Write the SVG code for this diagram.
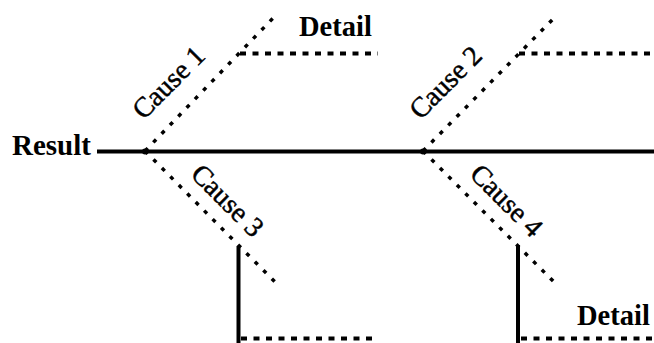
<svg xmlns="http://www.w3.org/2000/svg" width="654" height="343" viewBox="0 0 654 343">
<style>
.bg{fill:#fff}
.solid{stroke:#000;stroke-width:4;fill:none}
.dot{stroke:#000;stroke-width:3.5;stroke-dasharray:4 8;fill:none}
.dash{stroke:#000;stroke-width:4;stroke-dasharray:6 6.5;fill:none}
.bold{font-family:"Liberation Serif","Times New Roman",serif;font-weight:bold;font-size:29px;fill:#000}
.cause{font-family:"Liberation Serif","Times New Roman",serif;font-size:28px;fill:#000;stroke:#000;stroke-width:0.5;text-anchor:middle}
.joint{fill:#000}
</style>
<rect class="bg" x="0" y="0" width="654" height="343"/>
<g id="connectors">
  <line class="solid" x1="97" y1="151.5" x2="654" y2="151.5"/>
  <line class="dot" x1="145" y1="151" x2="276" y2="15"/>
  <line class="dot" x1="145" y1="151" x2="278" y2="285"/>
  <line class="dot" x1="423" y1="151" x2="557" y2="15"/>
  <line class="dot" x1="423" y1="151" x2="557" y2="285"/>
  <line class="dash" x1="240" y1="53.5" x2="378" y2="53.5"/>
  <line class="dash" x1="519" y1="53.5" x2="654" y2="53.5"/>
  <line class="solid" x1="238.5" y1="246" x2="238.5" y2="343"/>
  <line class="solid" x1="518" y1="245" x2="518" y2="343"/>
  <line class="dash" x1="241" y1="338.5" x2="378" y2="338.5"/>
  <line class="dash" x1="521" y1="338.5" x2="654" y2="338.5"/>
  <circle class="joint" cx="145" cy="151.5" r="3"/>
  <circle class="joint" cx="423" cy="151.5" r="3"/>
</g>
<g id="result"><text class="bold" x="12" y="155">Result</text></g>
<g id="cause1"><text class="cause" transform="translate(175,89) rotate(-45)">Cause 1</text></g>
<g id="cause2"><text class="cause" transform="translate(452,89) rotate(-45)">Cause 2</text></g>
<g id="cause3"><text class="cause" transform="translate(221,207) rotate(45)">Cause 3</text></g>
<g id="cause4"><text class="cause" transform="translate(500,207) rotate(45)">Cause 4</text></g>
<g id="detail1"><text class="bold" x="299" y="36" style="font-size:28.5px">Detail</text></g>
<g id="detail2"><text class="bold" x="577" y="325" style="font-size:28.5px">Detail</text></g>
</svg>
